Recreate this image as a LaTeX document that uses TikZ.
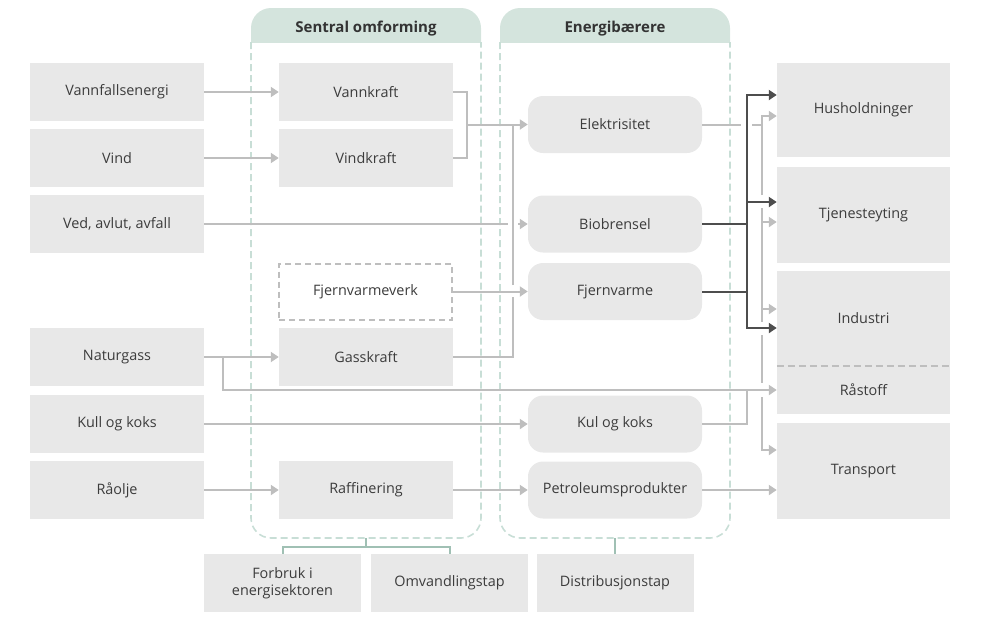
\documentclass[tikz,border=0pt]{standalone}
\usepackage{fontspec}
\setmainfont{Open Sans}
\usetikzlibrary{arrows.meta}
\definecolor{boxg}{RGB}{232,232,232}
\definecolor{txt}{RGB}{60,60,60}
\definecolor{hdr}{RGB}{212,228,221}
\definecolor{frm}{RGB}{200,222,214}
\definecolor{lg}{RGB}{190,190,190}
\definecolor{dk}{RGB}{77,77,77}
\definecolor{grn}{RGB}{160,192,180}
\definecolor{ttl}{RGB}{51,51,51}
\begin{document}
\begin{tikzpicture}[x=1pt,y=-1pt,
  box/.style={fill=boxg, text=txt, font=\fontsize{14.4}{17}\selectfont, inner sep=0pt,
    minimum width=174pt, minimum height=58pt, align=center},
  rbox/.style={box, rounded corners=15pt, minimum height=57pt},
  dbox/.style={box, fill=white, draw=lg, line width=2pt, dash pattern=on 6pt off 4pt,
    minimum width=173pt, minimum height=56pt},
  con/.style={draw=lg, line width=2pt},
  arr/.style={con, -{Triangle[length=8pt,width=10pt]}},
  dcon/.style={draw=dk, line width=2pt},
  darr/.style={dcon, -{Triangle[length=8pt,width=10pt]}},
  frame/.style={draw=frm, line width=1.6pt, dash pattern=on 7pt off 4pt, rounded corners=20pt},
  gcon/.style={draw=grn, line width=2pt},
  title/.style={text=ttl, font=\bfseries\fontsize{15}{18}\selectfont, inner sep=0pt}
]
\useasboundingbox (0,0) rectangle (988,627);

% column frames
\begin{scope}
  \clip (251,8) rectangle (481,42);
  \fill[hdr, rounded corners=20pt] (251,8) rectangle (481,90);
\end{scope}
\begin{scope}
  \clip (500,8) rectangle (730,42);
  \fill[hdr, rounded corners=20pt] (500,8) rectangle (730,90);
\end{scope}
\node[title, anchor=base] (tS) at (366,32) {Sentral omforming};
\node[title, anchor=base] (tE) at (615,32) {Energibærere};
\draw[frame] (251,42) -- (251,538) -- (481,538) -- (481,42);
\draw[frame] (500,42) -- (500,538) -- (730,538) -- (730,42);

% left column
\node[box] (vfe) at (117,92) {Vannfallsenergi};
\node[box] (vind) at (117,158) {Vind};
\node[box] (ved) at (117,224) {Ved, avlut, avfall};
\node[box] (ng) at (117,357) {Naturgass};
\node[box] (kull) at (117,424) {Kull og koks};
\node[box] (ro) at (117,490) {Råolje};

% central conversion
\node[box] (vk) at (366,92) {Vannkraft};
\node[box] (vik) at (366,158) {Vindkraft};
\node[dbox] (fvv) at (365.5,291.5) {Fjernvarmeverk};
\node[box] (gk) at (366,357) {Gasskraft};
\node[box] (raf) at (366,490) {Raffinering};

% energy carriers
\node[rbox] (el) at (615,124.5) {Elektrisitet};
\node[rbox] (bio) at (615,224) {Biobrensel};
\node[rbox] (fv) at (615,291.5) {Fjernvarme};
\node[rbox] (kk) at (615,424) {Kul og koks};
\node[rbox] (pet) at (615,490) {Petroleumsprodukter};

% end use
\node[box, minimum width=173pt, minimum height=94pt] (hus) at (863.5,110) {Husholdninger};
\node[box, minimum width=173pt, minimum height=96pt] (tje) at (863.5,215) {Tjenesteyting};
\node[box, minimum width=173pt, minimum height=95pt] (ind) at (863.5,318.5) {Industri};
\node[box, minimum width=173pt, minimum height=48pt] (ras) at (863.5,390) {Råstoff};
\node[box, minimum width=173pt, minimum height=96pt] (tra) at (863.5,471) {Transport};
\draw[draw=lg, line width=1.5pt, dash pattern=on 7pt off 4pt] (ind.south west) -- (ind.south east);

% losses
\node[box, minimum width=157pt] (forb) at (282.5,583) {Forbruk i\\energisektoren};
\node[box, minimum width=157pt] (omv) at (449.5,583) {Omvandlingstap};
\node[box, minimum width=157pt] (dist) at (615,583) {Distribusjonstap};

% left -> central
\draw[arr] (vfe.east) -- (vk.west);
\draw[arr] (vind.east) -- (vik.west);
\draw[arr] (ng.east) -- (gk.west);
\draw[arr] (ro.east) -- (raf.west);
\draw[arr] (kull.east) -- (kk.west);

% Ved -> Biobrensel with gap
\coordinate (vgA) at (508,224);
\coordinate (vgB) at (518,224);
\draw[con] (ved.east) -- (vgA);
\draw[arr] (vgB) -- (bio.west);

% hydro + wind -> electricity
\coordinate (jA) at (467,124.5);
\draw[con] (vk.east) -| (jA) |- (vik.east);
\draw[arr] (jA) -- (el.west);

% gas power -> electricity (bridge over district heating line)
\coordinate (gTop) at (513,124.5);
\coordinate (gB) at (513,285);
\coordinate (gA) at (513,297);
\draw[con] (gk.east) -| (gA);
\draw[con] (gB) -- (gTop);
\draw[arr] (fvv.east) -- (fv.west);

% natural gas -> raw material
\coordinate (nb) at (223,357);
\draw[arr] (nb) |- (ras.west);

% coal carrier -> raw material
\coordinate (kkj) at (747,390);
\draw[con] (kk.east) -| (kkj);

% refining chain
\draw[arr] (raf.east) -- (pet.west);
\draw[arr] (pet.east) -- (pet.east -| tra.west);

% electricity distribution (light)
\coordinate (egA) at (741,124.5);
\coordinate (egB) at (752,124.5);
\coordinate (eJ) at (762,124.5);
\draw[con] (el.east) -- (egA);
\draw[con] (egB) -- (eJ);
\coordinate (e1) at (762,116);
\coordinate (s1) at (762,195);
\coordinate (s2) at (762,208);
\coordinate (s3) at (762,322);
\coordinate (s4) at (762,335);
\coordinate (s5) at (762,383);
\coordinate (s6) at (762,397);
\coordinate (e4) at (762,450);
\coordinate (e2) at (762,222);
\coordinate (e3) at (762,309);
\draw[arr] (s1) -- (e1) -- (e1 -| hus.west);
\draw[con] (s2) -- (s3);
\draw[con] (s4) -- (s5);
\draw[arr] (s6) -- (e4) -- (e4 -| tra.west);
\draw[arr] (e2) -- (e2 -| tje.west);
\draw[arr] (e3) -- (e3 -| ind.west);

% biofuel + district heating distribution (dark)
\coordinate (d1) at (747,95);
\coordinate (d2) at (747,202);
\coordinate (d3) at (747,328);
\draw[dcon, {Triangle[length=8pt,width=10pt]}-{Triangle[length=8pt,width=10pt]}]
  (d1 -| hus.west) -- (d1) -- (d3) -- (d3 -| ind.west);
\draw[darr] (d2) -- (d2 -| tje.west);
\draw[dcon] (bio.east) -- (bio.east -| d1);
\draw[dcon] (fv.east) -- (fv.east -| d1);

% losses connectors
\coordinate (sb) at (366,538);
\coordinate (sj) at (366,547);
\draw[gcon] (sb) -- (sj);
\draw[gcon] (forb.north) |- (sj) -| (omv.north);
\coordinate (eb) at (615,538);
\draw[gcon] (eb) -- (dist.north);
\end{tikzpicture}
\end{document}
